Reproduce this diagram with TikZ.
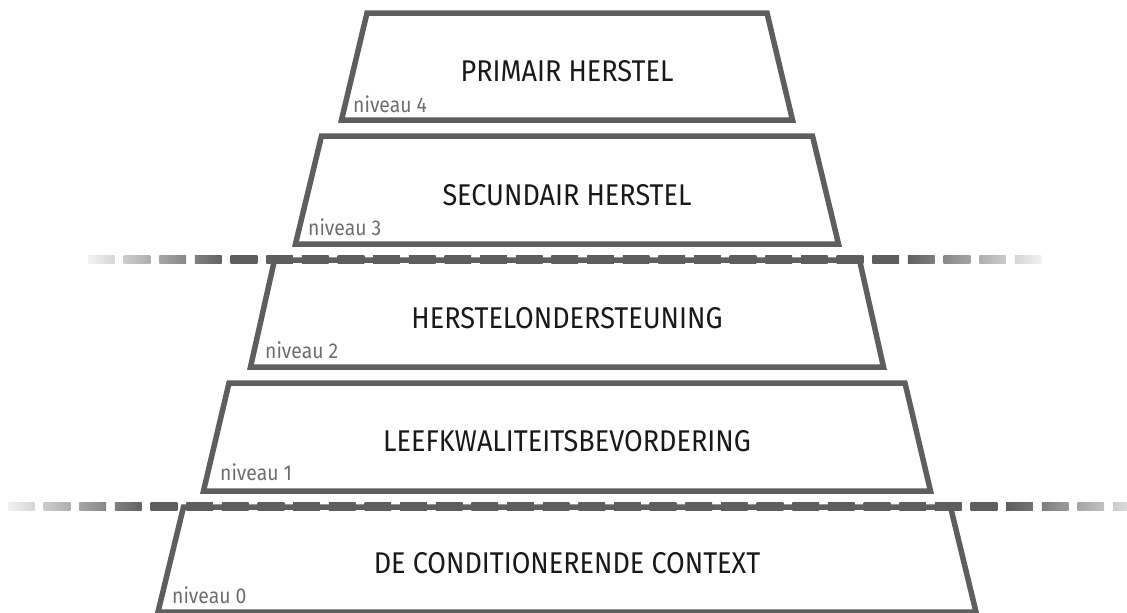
\documentclass[tikz,border=0pt]{standalone}
\usepackage{fontspec}
\setmainfont{Fira Sans}[FakeStretch=0.9]
\usepackage{tikz}
\usepackage{xcolor}
\definecolor{edgegray}{HTML}{5E5E5E}
\definecolor{lblgray}{HTML}{6E6E6E}

\begin{document}
\begin{tikzpicture}[
    x=1pt, y=-1pt,
    tier/.style={draw=edgegray, line width=5.5pt, line join=miter},
    lvllbl/.style={font=\fontsize{30}{36}\selectfont, text=black!90, inner sep=0pt},
    nvlbl/.style={font=\fontsize{21.5}{26}\selectfont, text=lblgray, anchor=base west, inner sep=0pt}
]
\useasboundingbox (0,0) rectangle (1127,613);

% Level 4
\draw[tier] (367,13) -- (767,13) -- (792.5,120) -- (341.5,120) -- cycle;
\node[lvllbl] (lvlFour) at (567,71) {PRIMAIR HERSTEL};
\node[nvlbl] (nvFour) at (353,112) {niveau 4};

% Level 3
\draw[tier] (321.5,136) -- (812.5,136) -- (838.5,244) -- (295.5,244) -- cycle;
\node[lvllbl] (lvlThree) at (567,195) {SECUNDAIR HERSTEL};
\node[nvlbl] (nvThree) at (308,235) {niveau 3};

% Level 2
\draw[tier] (274.5,260) -- (859.5,260) -- (883.5,367) -- (250.5,367) -- cycle;
\node[lvllbl] (lvlTwo) at (567,318) {HERSTELONDERSTEUNING};
\node[nvlbl] (nvTwo) at (265,358) {niveau 2};

% Level 1
\draw[tier] (229,383) -- (905,383) -- (930.5,491) -- (203.5,491) -- cycle;
\node[lvllbl] (lvlOne) at (567,441) {LEEFKWALITEITSBEVORDERING};
\node[nvlbl] (nvOne) at (220,480) {niveau 1};

% Level 0
\draw[tier] (183.5,507) -- (950.5,507) -- (976,612) -- (158,612) -- cycle;
\node[lvllbl] (lvlZero) at (567,563) {DE CONDITIONERENDE CONTEXT};
\node[nvlbl] (nvZero) at (172,603) {niveau 0};

% Separators (dashes fading out at both ends)
\foreach \k in {0,...,26}{
  \pgfmathsetmacro{\xa}{88+35.65*\k}
  \pgfmathtruncatemacro{\fa}{max(0,min(100,(\xa-75)/1.5,(1055-\xa)/1.5))}
  \pgfmathtruncatemacro{\fb}{max(0,min(100,(\xa+26.7-75)/1.5,(1055-\xa-26.7)/1.5))}
  \shade[left color=edgegray!\fa, right color=edgegray!\fb] (\xa,255) rectangle ++(26.7,8);
}
\foreach \k in {0,...,31}{
  \pgfmathsetmacro{\xa}{8+35.65*\k}
  \pgfmathtruncatemacro{\fa}{max(0,min(100,(\xa+5)/1.5,(1162-\xa)/1.5))}
  \pgfmathtruncatemacro{\fb}{max(0,min(100,(\xa+26.7+5)/1.5,(1162-\xa-26.7)/1.5))}
  \shade[left color=edgegray!\fa, right color=edgegray!\fb] (\xa,502) rectangle ++(26.7,8);
}

\end{tikzpicture}
\end{document}
